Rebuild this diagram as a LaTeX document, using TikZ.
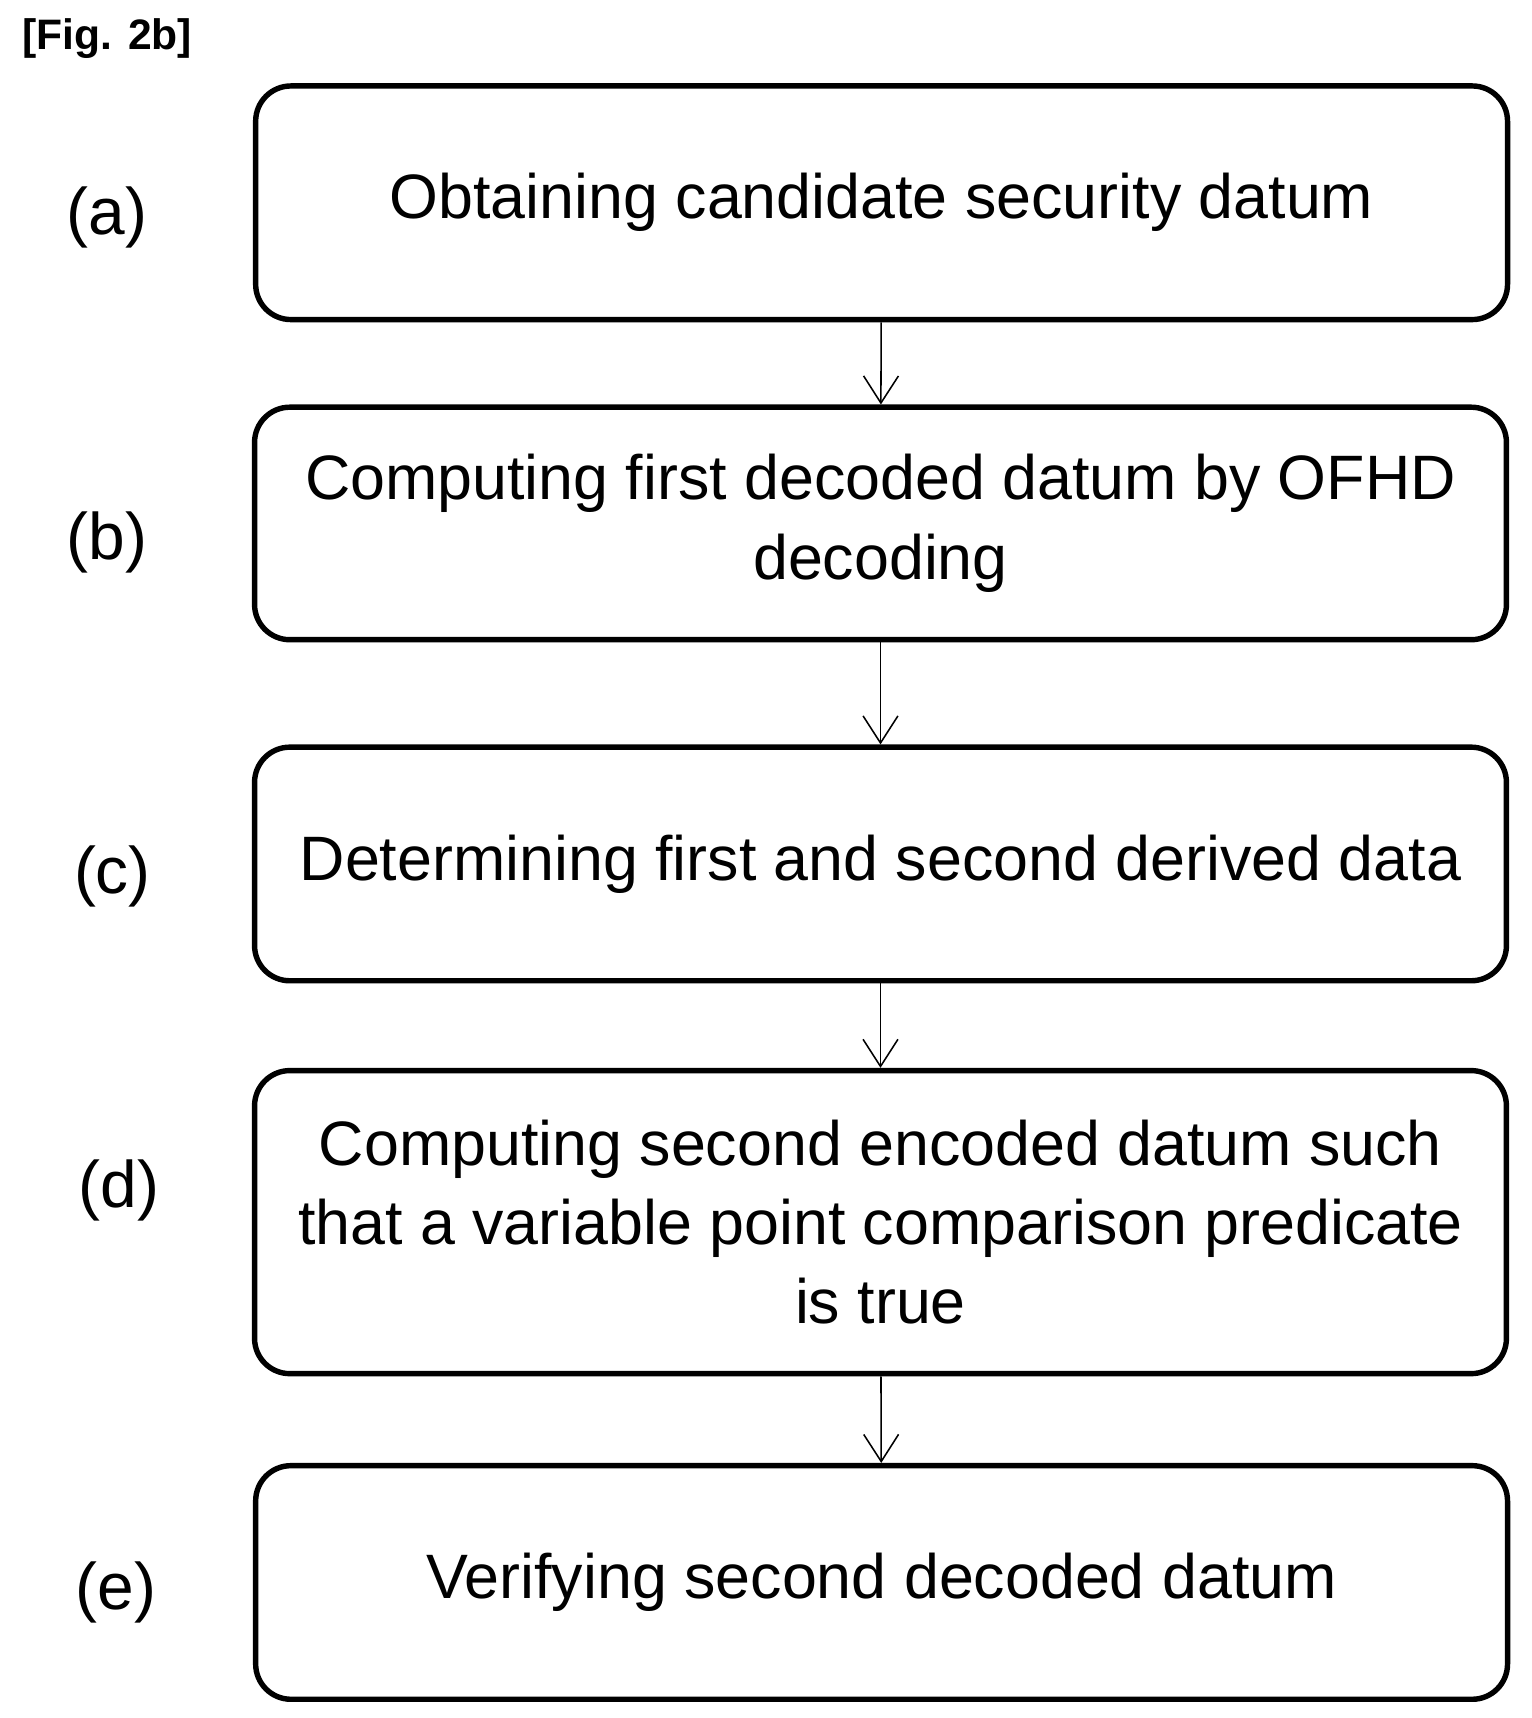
\documentclass[tikz,border=0pt]{standalone}
\usepackage{fontspec}
\setmainfont{Liberation Sans}
\usetikzlibrary{arrows.meta}

\begin{document}
\begin{tikzpicture}[x=1cm, y=1cm, >={Straight Barb[length=7pt,width=9pt]},
    stepbox/.style={draw, line width=1.4pt, rounded corners=0.32cm, minimum width=11.36cm,
        align=center, font=\fontsize{16.2}{20.5}\selectfont, inner sep=0pt},
    steplabel/.style={font=\fontsize{17}{20}\selectfont}]
        \useasboundingbox (0, 0) rectangle (13.9, -15.59);

        \node [font=\bfseries\fontsize{11}{13}\selectfont, anchor=west] (fig) at (0.08, -0.35) {[Fig. 2b]};

        \node [stepbox, minimum height=2.12cm] (a) at (8.0, -1.84) {Obtaining candidate security datum};
        \node [stepbox, minimum height=2.11cm] (b) at (7.99, -4.75) {Computing first decoded datum by OFHD\\decoding};
        \node [stepbox, minimum height=2.12cm] (c) at (7.99, -7.84) {Determining first and second derived data};
        \node [stepbox, minimum height=2.75cm] (d) at (7.99, -11.09) {Computing second encoded datum such\\that a variable point comparison predicate\\is true};
        \node [stepbox, minimum height=2.12cm] (e) at (8.0, -14.36) {Verifying second decoded datum};

        \node [steplabel] (la) at (0.97, -1.97) {(a)};
        \node [steplabel] (lb) at (0.97, -4.92) {(b)};
        \node [steplabel] (lc) at (1.02, -7.95) {(c)};
        \node [steplabel] (ld) at (1.08, -10.8) {(d)};
        \node [steplabel] (le) at (1.05, -14.45) {(e)};

        % arrows between steps
        \draw [->, thin] (a) -- (b);
        \draw [->, thin] (b) -- (c);
        \draw [->, thin] (c) -- (d);
        \draw [->, thin] (d) -- (e);
    \end{tikzpicture}
\end{document}
